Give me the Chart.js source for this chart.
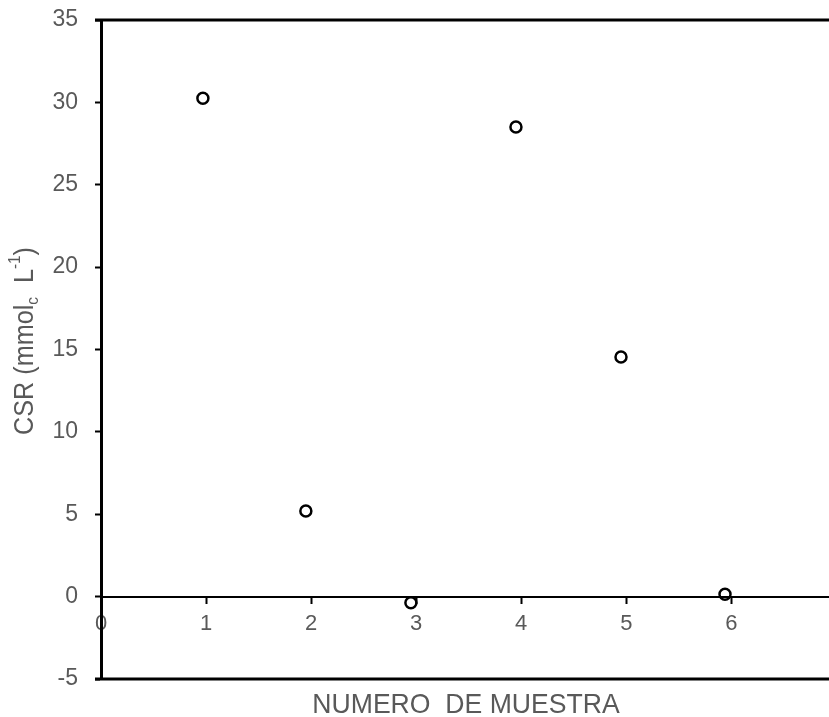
<!DOCTYPE html>
<html>
<head>
<meta charset="utf-8">
<script src="https://cdn.jsdelivr.net/npm/chart.js@4.4.1/dist/chart.umd.min.js"></script>
<style>
  html, body { margin: 0; padding: 0; background: #fff; overflow: hidden; }
  #wrap { width: 829px; height: 717px; }
</style>
</head>
<body>
<div id="wrap"><canvas id="csr-chart"></canvas></div>
<script>
'use strict';

// sample number (as plotted, slightly left of the integer ticks) and CSR values
var sampleX = [0.97, 1.95, 2.95, 3.95, 4.95, 5.94];
var csrValues = [30.25, 5.2, -0.37, 28.5, 14.55, 0.15];
var xTicks = [0, 1, 2, 3, 4, 5, 6];
var yTicks = [-5, 0, 5, 10, 15, 20, 25, 30, 35];

var xTitle = 'NUMERO  DE MUESTRA';
var gray = '#595959';
var fontFam = '"Liberation Sans", Arial, sans-serif';

var points = sampleX.map(function(x, i) { return { x: x, y: csrValues[i] }; });

// top and bottom frame lines + axis titles (with sub/superscript)
var framePlugin = {
  id: 'frame',
  afterDraw: function(chart) {
    var ctx = chart.ctx;
    var a = chart.chartArea;
    ctx.save();
    ctx.strokeStyle = '#000';
    ctx.lineWidth = 3;
    ctx.beginPath();
    ctx.moveTo(a.left - 6, a.top); ctx.lineTo(a.right, a.top);
    ctx.moveTo(a.left - 6, a.bottom); ctx.lineTo(a.right, a.bottom);
    ctx.stroke();

    // x title
    ctx.fillStyle = gray;
    ctx.textBaseline = 'alphabetic';
    ctx.textAlign = 'center';
    ctx.translate(466, 713);
    ctx.scale(0.95, 1);
    ctx.font = '28px ' + fontFam;
    ctx.fillText(xTitle, 0, 0);
    ctx.restore();

    // y title, rotated
    ctx.save();
    ctx.fillStyle = gray;
    ctx.translate(33, 341);
    ctx.rotate(-Math.PI / 2);
    ctx.scale(0.9, 1);
    ctx.textBaseline = 'alphabetic';
    ctx.textAlign = 'left';
    var big = '28px ' + fontFam, small = '17px ' + fontFam;
    var parts = [
      { t: 'CSR (mmol', f: big, dy: 0 },
      { t: 'c', f: small, dy: 5 },
      { t: '  L', f: big, dy: 0 },
      { t: '-1', f: small, dy: -13 },
      { t: ')', f: big, dy: 0 }
    ];
    var total = 0;
    parts.forEach(function(p) { ctx.font = p.f; p.w = ctx.measureText(p.t).width; total += p.w; });
    var x = -total / 2;
    parts.forEach(function(p) {
      ctx.font = p.f;
      ctx.fillText(p.t, x, p.dy);
      x += p.w;
    });
    ctx.restore();
  }
};

var ctx = document.getElementById('csr-chart').getContext('2d');
new Chart(ctx, {
  type: 'scatter',
  data: {
    datasets: [{
      data: points,
      pointStyle: 'circle',
      pointRadius: 5.5,
      pointHoverRadius: 5.5,
      borderWidth: 2.5,
      borderColor: '#000',
      backgroundColor: 'rgba(255,255,255,0)'
    }]
  },
  options: {
    responsive: true,
    maintainAspectRatio: false,
    animation: false,
    layout: { autoPadding: false, padding: { top: 20, bottom: 38, left: 0, right: 0 } },
    plugins: {
      legend: { display: false },
      tooltip: { enabled: false }
    },
    scales: {
      x: {
        type: 'linear',
        position: { y: 0 },
        min: 0,
        max: 6.93,
        afterBuildTicks: function(axis) {
          axis.ticks = xTicks.map(function(v) { return { value: v }; });
        },
        afterFit: function(axis) { axis.paddingLeft = 0; axis.paddingRight = 0; },
        ticks: {
          color: gray,
          padding: 8,
          font: { family: fontFam, size: 22 },
          maxRotation: 0,
          autoSkip: false
        },
        grid: {
          drawOnChartArea: false,
          drawTicks: true,
          tickLength: 6,
          tickWidth: 2,
          tickColor: '#000'
        },
        border: { display: true, color: '#000', width: 2 }
      },
      y: {
        type: 'linear',
        min: -5,
        max: 35,
        afterBuildTicks: function(axis) {
          axis.ticks = yTicks.map(function(v) { return { value: v }; });
        },
        afterFit: function(axis) {
          axis.width = 101;
          axis.paddingTop = 0;
          axis.paddingBottom = 0;
        },
        ticks: {
          color: gray,
          padding: 17,
          font: { family: fontFam, size: 23 }
        },
        grid: {
          drawOnChartArea: false,
          drawTicks: true,
          tickLength: 6,
          tickWidth: 2,
          tickColor: '#000'
        },
        border: { display: true, color: '#000', width: 3 }
      }
    }
  },
  plugins: [framePlugin]
});
</script>
</body>
</html>
